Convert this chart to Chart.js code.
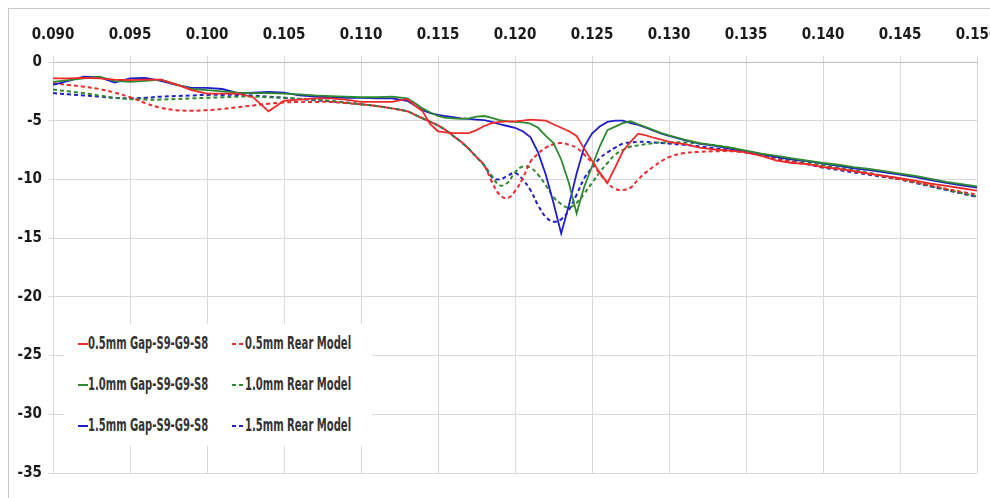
<!DOCTYPE html>
<html>
<head>
<meta charset="utf-8">
<script src="https://cdn.jsdelivr.net/npm/chart.js@4/dist/chart.umd.min.js"></script>
<style>
  body { margin: 0; background: #fff; }
  #wrap { position: relative; width: 990px; height: 498px; overflow: hidden; }
  #frame { position: absolute; left: 8px; top: 8px; width: 990px; height: 498px; border: 1px solid #c8c8c8; box-sizing: border-box; }
  #legend {
    position: absolute; left: 64px; top: 324px; width: 308px; height: 122px;
    background: #fff;
    font-family: 'DejaVu Sans Condensed', 'Liberation Sans', sans-serif;
    font-size: 17px; font-weight: bold; color: #333;
  }
  .item { position: absolute; white-space: nowrap; line-height: 20px; }
  .mark { position: absolute; top: 10px; height: 2px; }
  .solid { left: 0; width: 10px; }
  .dash { left: 0; width: 12px; }
  .txt { position: absolute; top: 0; display: inline-block; transform: scaleX(0.655); transform-origin: 0 50%; }
</style>
</head>
<body>
<div id="wrap">
  <div id="frame"></div>
  <canvas id="chart" width="990" height="498"></canvas>
  <div id="legend"></div>
</div>
<script>
// frequency axis (finer sampling around the resonance dips)
const freq = [
  0.090, 0.091, 0.092, 0.093, 0.094, 0.095, 0.096, 0.097, 0.098, 0.099,
  0.100, 0.101, 0.102, 0.103, 0.104, 0.105, 0.106, 0.107, 0.108, 0.109,
  0.110, 0.111, 0.112, 0.113,
  0.1135, 0.114, 0.1145, 0.115, 0.1155, 0.116, 0.1165, 0.117, 0.1175, 0.118,
  0.1185, 0.119, 0.1195, 0.120, 0.1205, 0.121, 0.1215, 0.122, 0.1225, 0.123,
  0.1235, 0.124, 0.1245, 0.125, 0.1255, 0.126, 0.1265, 0.127, 0.1275, 0.128,
  0.1285, 0.129, 0.1295, 0.130,
  0.131, 0.132, 0.133, 0.134, 0.135, 0.136, 0.137, 0.138, 0.139, 0.140,
  0.141, 0.142, 0.143, 0.144, 0.145, 0.146, 0.147, 0.148, 0.149, 0.150
];

const gap05 = [
  -1.4, -1.4, -1.35, -1.4, -1.5, -1.55, -1.5, -1.5, -1.9, -2.4,
  -2.7, -2.7, -2.7, -3.0, -4.2, -3.3, -3.2, -3.1, -3.1, -3.2,
  -3.4, -3.4, -3.4, -3.15,
  -3.7, -4.2, -5.3, -5.9, -6.0, -6.05, -6.05, -6.05, -5.8, -5.45,
  -5.2, -5.1, -5.05, -5.05, -5.0, -4.9, -4.95, -5.0, -5.3, -5.6,
  -5.9, -6.3, -7.4, -8.4, -9.4, -10.3, -9.0, -7.6, -6.8, -6.1,
  -6.25, -6.45, -6.6, -6.8,
  -7.0, -7.3, -7.45, -7.55, -7.7, -8.0, -8.4, -8.6, -8.7, -8.95,
  -9.1, -9.3, -9.5, -9.7, -9.9, -10.1, -10.35, -10.55, -10.75, -10.95
];
const gap10 = [
  -1.7, -1.55, -1.4, -1.25, -1.6, -1.7, -1.6, -1.5, -1.9, -2.3,
  -2.4, -2.5, -2.6, -2.65, -2.65, -2.7, -2.75, -2.85, -2.9, -2.95,
  -3.0, -3.0, -2.95, -3.1,
  -3.5, -3.95, -4.3, -4.6, -4.75, -4.8, -4.85, -4.8, -4.65, -4.6,
  -4.75, -4.95, -5.05, -5.1, -5.15, -5.25, -5.6, -6.3, -6.9, -8.3,
  -10.3, -12.9, -10.6, -8.9, -7.2, -5.8, -5.5, -5.2, -5.05, -5.3,
  -5.55, -5.8, -6.05, -6.25,
  -6.6, -6.9, -7.1, -7.3, -7.55, -7.8, -8.0, -8.2, -8.4, -8.6,
  -8.75, -8.95, -9.1, -9.3, -9.5, -9.7, -9.95, -10.2, -10.4, -10.6
];
const gap15 = [
  -1.95, -1.6, -1.25, -1.3, -1.75, -1.4, -1.35, -1.6, -1.95, -2.2,
  -2.2, -2.3, -2.65, -2.6, -2.55, -2.6, -2.85, -2.95, -3.0, -3.05,
  -3.05, -3.1, -3.1, -3.3,
  -3.7, -4.1, -4.35, -4.5, -4.6, -4.7, -4.8, -4.85, -4.9, -4.95,
  -5.1, -5.3, -5.45, -5.6, -5.9, -6.4, -7.7, -9.6, -12.0, -14.6,
  -12.2, -9.5, -7.2, -6.1, -5.5, -5.1, -5.0, -5.0, -5.2, -5.35,
  -5.6, -5.85, -6.1, -6.3,
  -6.65, -6.95, -7.15, -7.4, -7.6, -7.85, -8.1, -8.3, -8.45, -8.65,
  -8.85, -9.05, -9.2, -9.4, -9.6, -9.8, -10.05, -10.3, -10.5, -10.7
];
const rear05 = [
  -1.8, -1.95, -2.1, -2.3, -2.6, -3.0, -3.5, -3.9, -4.1, -4.15,
  -4.1, -4.0, -3.85, -3.7, -3.55, -3.45, -3.4, -3.4, -3.4, -3.5,
  -3.6, -3.75, -3.95, -4.2,
  -4.5, -4.8, -5.1, -5.4, -5.8, -6.3, -6.8, -7.4, -8.1, -8.8,
  -10.2, -11.3, -11.6, -11.0, -9.9, -8.5, -7.8, -7.3, -7.0, -6.9,
  -7.05, -7.3, -7.9, -8.6, -9.5, -10.3, -10.8, -10.9, -10.7, -10.0,
  -9.4, -8.9, -8.45, -8.1,
  -7.75, -7.65, -7.6, -7.6, -7.7, -7.95, -8.3, -8.5, -8.7, -8.9,
  -9.1, -9.3, -9.55, -9.75, -10.0, -10.25, -10.5, -10.8, -11.05, -11.3
];
const rear10 = [
  -2.35, -2.5, -2.65, -2.85, -3.05, -3.15, -3.2, -3.2, -3.15, -3.1,
  -3.05, -3.0, -2.95, -2.95, -3.0, -3.05, -3.15, -3.2, -3.3, -3.45,
  -3.6, -3.75, -3.95, -4.2,
  -4.5, -4.8, -5.1, -5.4, -5.8, -6.3, -6.8, -7.4, -8.1, -8.8,
  -9.7, -10.5, -10.3, -9.4, -8.9, -9.0, -9.6, -10.5, -11.5, -12.1,
  -12.4, -12.0, -11.2, -10.3, -9.4, -8.6, -7.9, -7.5, -7.2, -7.1,
  -7.0, -6.9, -6.85, -6.85,
  -6.85, -6.95, -7.1, -7.3, -7.6, -7.85, -8.1, -8.35, -8.55, -8.8,
  -9.0, -9.2, -9.45, -9.7, -9.95, -10.25, -10.55, -10.85, -11.15, -11.45
];
const rear15 = [
  -2.65, -2.75, -2.85, -2.95, -3.05, -3.1, -3.05, -2.95, -2.9, -2.85,
  -2.8, -2.8, -2.8, -2.85, -2.95, -3.05, -3.15, -3.25, -3.35, -3.45,
  -3.6, -3.75, -3.95, -4.2,
  -4.5, -4.8, -5.1, -5.4, -5.8, -6.3, -6.8, -7.4, -8.1, -8.8,
  -9.8, -10.0, -9.7, -9.45, -10.0, -10.9, -12.2, -13.2, -13.6, -13.4,
  -12.6, -11.3, -9.9, -9.0, -8.2, -7.7, -7.3, -6.95, -6.85, -6.8,
  -6.8, -6.85, -6.9, -6.95,
  -7.05, -7.2, -7.35, -7.5, -7.7, -7.95, -8.2, -8.45, -8.7, -9.0,
  -9.2, -9.4, -9.6, -9.8, -10.0, -10.3, -10.6, -10.9, -11.2, -11.5
];

const RED = '#ee2a2a';
const GREEN = '#2f8a2f';
const BLUE = '#1f1fc8';
const FONT = "'DejaVu Sans Condensed', 'Liberation Sans', sans-serif";

const series = [
  { label: '0.5mm Gap-S9-G9-S8', data: gap05, color: RED, dashed: false },
  { label: '1.0mm Gap-S9-G9-S8', data: gap10, color: GREEN, dashed: false },
  { label: '1.5mm Gap-S9-G9-S8', data: gap15, color: BLUE, dashed: false },
  { label: '0.5mm Rear Model', data: rear05, color: RED, dashed: true },
  { label: '1.0mm Rear Model', data: rear10, color: GREEN, dashed: true },
  { label: '1.5mm Rear Model', data: rear15, color: BLUE, dashed: true },
];

const datasets = series.map(s => ({
  label: s.label,
  data: freq.map((f, i) => ({ x: f, y: s.data[i] })),
  borderColor: s.color,
  borderWidth: s.dashed ? 2 : 1.8,
  borderDash: s.dashed ? [4, 3] : [],
  tension: s.dashed ? 0.4 : 0,
  pointRadius: 0,
  fill: false,
}));

new Chart(document.getElementById('chart'), {
  type: 'line',
  data: { datasets },
  options: {
    responsive: false,
    animation: false,
    layout: { padding: { left: 0, top: 0, right: 13, bottom: 25 } },
    plugins: { legend: { display: false }, tooltip: { enabled: false } },
    scales: {
      x: {
        type: 'linear',
        position: 'top',
        min: 0.09,
        max: 0.15,
        afterFit: (scale) => {
          scale.height = 62;
          scale.paddingLeft = 0;
          scale.paddingRight = 0;
        },
        grid: { color: '#d9d9d9', tickLength: 6 },
        border: { color: '#bdbdbd' },
        ticks: {
          stepSize: 0.005,
          autoSkip: false,
          maxRotation: 0,
          padding: 12,
          color: '#1a1a1a',
          font: { family: FONT, size: 15, weight: 'bold' },
          callback: (v) => Number(v).toFixed(3),
        },
      },
      y: {
        min: -35,
        max: 0,
        afterFit: (scale) => {
          scale.width = 53;
          scale.paddingTop = 0;
          scale.paddingBottom = 0;
        },
        grid: { color: '#d9d9d9', tickLength: 5 },
        border: { color: '#d9d9d9' },
        ticks: {
          stepSize: 5,
          padding: 6,
          color: '#1a1a1a',
          font: { family: FONT, size: 15, weight: 'bold' },
        },
      },
    },
  },
});

// legend box inside the plot, two columns like the original
const legend = document.getElementById('legend');
const order = [[0, 3], [1, 4], [2, 5]];
order.forEach((row, r) => {
  row.forEach((idx, c) => {
    const s = series[idx];
    const el = document.createElement('div');
    el.className = 'item';
    el.style.left = (c === 0 ? 14 : 168) + 'px';
    el.style.top = (9 + r * 41) + 'px';
    const mark = document.createElement('span');
    mark.className = 'mark ' + (s.dashed ? 'dash' : 'solid');
    mark.style.background = s.dashed
      ? 'repeating-linear-gradient(90deg, ' + s.color + ' 0 4px, transparent 4px 7px)'
      : s.color;
    el.appendChild(mark);
    const txt = document.createElement('span');
    txt.className = 'txt';
    txt.style.left = (s.dashed ? 13 : 10) + 'px';
    txt.textContent = s.label;
    el.appendChild(txt);
    legend.appendChild(el);
  });
});
</script>
</body>
</html>
